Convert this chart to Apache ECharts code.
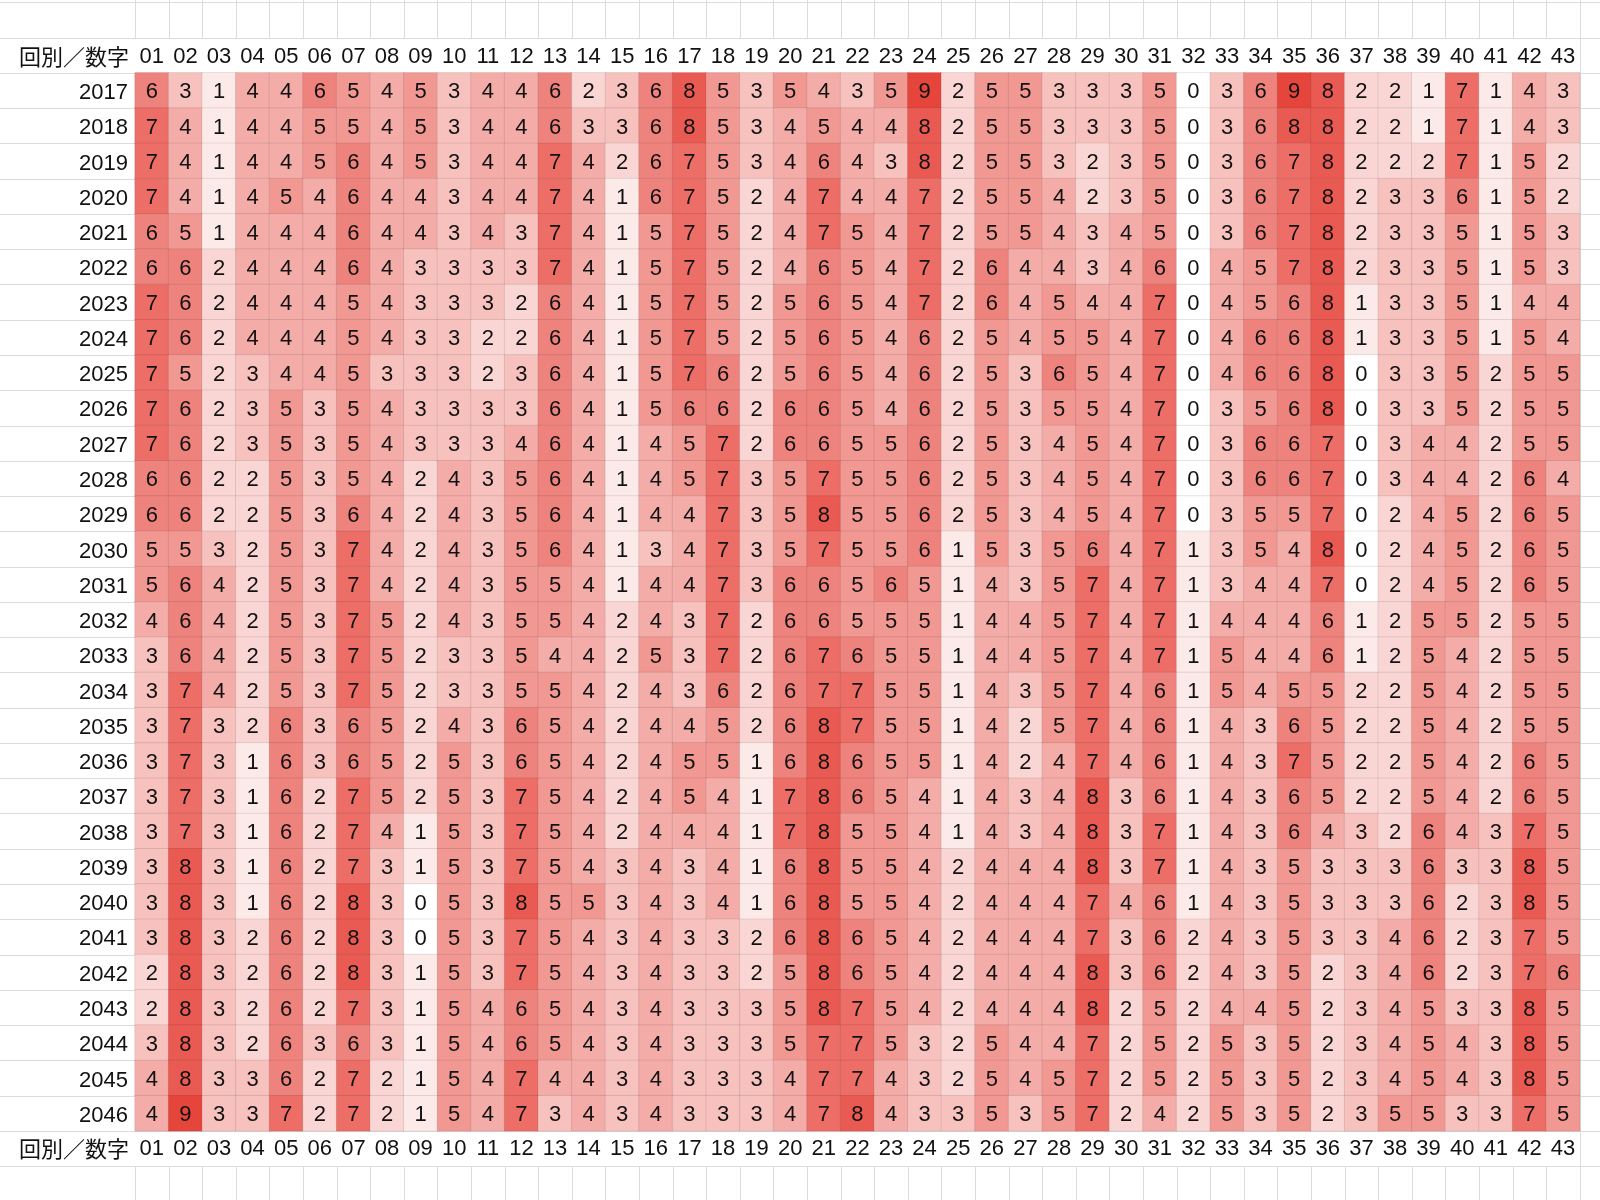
<!DOCTYPE html>
<html>
<head>
<meta charset="utf-8">
<script src="https://cdn.jsdelivr.net/npm/echarts@6/dist/echarts.min.js"></script>
<style>
  html, body { margin: 0; padding: 0; background: #fff; }
  #main { width: 1600px; height: 1200px; }
</style>
</head>
<body>
<div id="main"></div>
<script>
// 回別 (rows, top to bottom)
var years = ['2017', '2018', '2019', '2020', '2021', '2022', '2023', '2024', '2025', '2026',
  '2027', '2028', '2029', '2030', '2031', '2032', '2033', '2034', '2035', '2036',
  '2037', '2038', '2039', '2040', '2041', '2042', '2043', '2044', '2045', '2046'];

// 数字 (columns)
var numbers = ['01', '02', '03', '04', '05', '06', '07', '08', '09', '10',
  '11', '12', '13', '14', '15', '16', '17', '18', '19', '20',
  '21', '22', '23', '24', '25', '26', '27', '28', '29', '30',
  '31', '32', '33', '34', '35', '36', '37', '38', '39', '40',
  '41', '42', '43'];

// 出現回数, one line per year, 43 values per line
var counts = [
  [6,3,1,4,4,6,5,4,5,3,4,4,6,2,3,6,8,5,3,5,4,3,5,9,2,5,5,3,3,3,5,0,3,6,9,8,2,2,1,7,1,4,3],
  [7,4,1,4,4,5,5,4,5,3,4,4,6,3,3,6,8,5,3,4,5,4,4,8,2,5,5,3,3,3,5,0,3,6,8,8,2,2,1,7,1,4,3],
  [7,4,1,4,4,5,6,4,5,3,4,4,7,4,2,6,7,5,3,4,6,4,3,8,2,5,5,3,2,3,5,0,3,6,7,8,2,2,2,7,1,5,2],
  [7,4,1,4,5,4,6,4,4,3,4,4,7,4,1,6,7,5,2,4,7,4,4,7,2,5,5,4,2,3,5,0,3,6,7,8,2,3,3,6,1,5,2],
  [6,5,1,4,4,4,6,4,4,3,4,3,7,4,1,5,7,5,2,4,7,5,4,7,2,5,5,4,3,4,5,0,3,6,7,8,2,3,3,5,1,5,3],
  [6,6,2,4,4,4,6,4,3,3,3,3,7,4,1,5,7,5,2,4,6,5,4,7,2,6,4,4,3,4,6,0,4,5,7,8,2,3,3,5,1,5,3],
  [7,6,2,4,4,4,5,4,3,3,3,2,6,4,1,5,7,5,2,5,6,5,4,7,2,6,4,5,4,4,7,0,4,5,6,8,1,3,3,5,1,4,4],
  [7,6,2,4,4,4,5,4,3,3,2,2,6,4,1,5,7,5,2,5,6,5,4,6,2,5,4,5,5,4,7,0,4,6,6,8,1,3,3,5,1,5,4],
  [7,5,2,3,4,4,5,3,3,3,2,3,6,4,1,5,7,6,2,5,6,5,4,6,2,5,3,6,5,4,7,0,4,6,6,8,0,3,3,5,2,5,5],
  [7,6,2,3,5,3,5,4,3,3,3,3,6,4,1,5,6,6,2,6,6,5,4,6,2,5,3,5,5,4,7,0,3,5,6,8,0,3,3,5,2,5,5],
  [7,6,2,3,5,3,5,4,3,3,3,4,6,4,1,4,5,7,2,6,6,5,5,6,2,5,3,4,5,4,7,0,3,6,6,7,0,3,4,4,2,5,5],
  [6,6,2,2,5,3,5,4,2,4,3,5,6,4,1,4,5,7,3,5,7,5,5,6,2,5,3,4,5,4,7,0,3,6,6,7,0,3,4,4,2,6,4],
  [6,6,2,2,5,3,6,4,2,4,3,5,6,4,1,4,4,7,3,5,8,5,5,6,2,5,3,4,5,4,7,0,3,5,5,7,0,2,4,5,2,6,5],
  [5,5,3,2,5,3,7,4,2,4,3,5,6,4,1,3,4,7,3,5,7,5,5,6,1,5,3,5,6,4,7,1,3,5,4,8,0,2,4,5,2,6,5],
  [5,6,4,2,5,3,7,4,2,4,3,5,5,4,1,4,4,7,3,6,6,5,6,5,1,4,3,5,7,4,7,1,3,4,4,7,0,2,4,5,2,6,5],
  [4,6,4,2,5,3,7,5,2,4,3,5,5,4,2,4,3,7,2,6,6,5,5,5,1,4,4,5,7,4,7,1,4,4,4,6,1,2,5,5,2,5,5],
  [3,6,4,2,5,3,7,5,2,3,3,5,4,4,2,5,3,7,2,6,7,6,5,5,1,4,4,5,7,4,7,1,5,4,4,6,1,2,5,4,2,5,5],
  [3,7,4,2,5,3,7,5,2,3,3,5,5,4,2,4,3,6,2,6,7,7,5,5,1,4,3,5,7,4,6,1,5,4,5,5,2,2,5,4,2,5,5],
  [3,7,3,2,6,3,6,5,2,4,3,6,5,4,2,4,4,5,2,6,8,7,5,5,1,4,2,5,7,4,6,1,4,3,6,5,2,2,5,4,2,5,5],
  [3,7,3,1,6,3,6,5,2,5,3,6,5,4,2,4,5,5,1,6,8,6,5,5,1,4,2,4,7,4,6,1,4,3,7,5,2,2,5,4,2,6,5],
  [3,7,3,1,6,2,7,5,2,5,3,7,5,4,2,4,5,4,1,7,8,6,5,4,1,4,3,4,8,3,6,1,4,3,6,5,2,2,5,4,2,6,5],
  [3,7,3,1,6,2,7,4,1,5,3,7,5,4,2,4,4,4,1,7,8,5,5,4,1,4,3,4,8,3,7,1,4,3,6,4,3,2,6,4,3,7,5],
  [3,8,3,1,6,2,7,3,1,5,3,7,5,4,3,4,3,4,1,6,8,5,5,4,2,4,4,4,8,3,7,1,4,3,5,3,3,3,6,3,3,8,5],
  [3,8,3,1,6,2,8,3,0,5,3,8,5,5,3,4,3,4,1,6,8,5,5,4,2,4,4,4,7,4,6,1,4,3,5,3,3,3,6,2,3,8,5],
  [3,8,3,2,6,2,8,3,0,5,3,7,5,4,3,4,3,3,2,6,8,6,5,4,2,4,4,4,7,3,6,2,4,3,5,3,3,4,6,2,3,7,5],
  [2,8,3,2,6,2,8,3,1,5,3,7,5,4,3,4,3,3,2,5,8,6,5,4,2,4,4,4,8,3,6,2,4,3,5,2,3,4,6,2,3,7,6],
  [2,8,3,2,6,2,7,3,1,5,4,6,5,4,3,4,3,3,3,5,8,7,5,4,2,4,4,4,8,2,5,2,4,4,5,2,3,4,5,3,3,8,5],
  [3,8,3,2,6,3,6,3,1,5,4,6,5,4,3,4,3,3,3,5,7,7,5,3,2,5,4,4,7,2,5,2,5,3,5,2,3,4,5,4,3,8,5],
  [4,8,3,3,6,2,7,2,1,5,4,7,4,4,3,4,3,3,3,4,7,7,4,3,2,5,4,5,7,2,5,2,5,3,5,2,3,4,5,4,3,8,5],
  [4,9,3,3,7,2,7,2,1,5,4,7,3,4,3,4,3,3,3,4,7,8,4,3,3,5,3,5,7,2,4,2,5,3,5,2,3,5,5,3,3,7,5]
];

var cornerLabel = '回別／数字';

// 表のレイアウト
var LEFT = 135;
var TOP = 72.8;
var CELL_W = 33.6;
var CELL_H = 35.27;
var TEXT_FONT = '"Liberation Sans", Arial, sans-serif';
var CJK_FONT = '"Noto Sans CJK JP", sans-serif';
var TEXT_COLOR = '#111111';
var LINE_COLOR = '#dcdcdc';

var heatData = [];
counts.forEach(function (row, i) {
  row.forEach(function (v, j) {
    heatData.push([j, i, v]);
  });
});

// スプレッドシート風の罫線と見出し
var sheetLines = [];
function px(v) { return Math.round(v) + 0.5; }
for (var k = -2; k <= 32; k++) {
  var y = px(TOP + k * CELL_H);
  sheetLines.push({
    type: 'line', silent: true, z: 0,
    shape: { x1: 0, y1: y, x2: 1600, y2: y },
    style: { stroke: LINE_COLOR, lineWidth: 1 }
  });
}
for (var j = 0; j <= numbers.length; j++) {
  var x = px(LEFT + j * CELL_W);
  if (j === numbers.length) {
    sheetLines.push({
      type: 'line', silent: true, z: 0,
      shape: { x1: x, y1: 0, x2: x, y2: 1200 },
      style: { stroke: LINE_COLOR, lineWidth: 1 }
    });
  } else {
    sheetLines.push({
      type: 'line', silent: true, z: 0,
      shape: { x1: x, y1: 0, x2: x, y2: px(TOP - CELL_H) },
      style: { stroke: LINE_COLOR, lineWidth: 1 }
    });
    sheetLines.push({
      type: 'line', silent: true, z: 0,
      shape: { x1: x, y1: px(TOP + (years.length + 1) * CELL_H), x2: x, y2: 1200 },
      style: { stroke: LINE_COLOR, lineWidth: 1 }
    });
  }
}
// 見出し「回別／数字」(上と下)
[TOP - CELL_H / 2 + 1.5, TOP + (years.length + 0.5) * CELL_H + 0.5].forEach(function (cy) {
  sheetLines.push({
    type: 'text', silent: true, z: 5,
    x: 129, y: cy,
    style: {
      text: cornerLabel, align: 'right', verticalAlign: 'middle',
      font: '22px ' + CJK_FONT, fill: TEXT_COLOR
    }
  });
});

var chart = echarts.init(document.getElementById('main'));
var axisLabelBase = {
  fontSize: 22,
  fontFamily: TEXT_FONT,
  color: TEXT_COLOR
};

var option = {
  backgroundColor: '#ffffff',
  animation: false,
  graphic: { elements: sheetLines },
  grid: {
    left: LEFT,
    top: TOP,
    width: CELL_W * numbers.length,
    height: CELL_H * years.length,
    containLabel: false,
    outerBoundsMode: 'none'
  },
  xAxis: [
    {
      type: 'category',
      position: 'top',
      data: numbers,
      axisLine: { show: false },
      axisTick: { show: false },
      splitLine: { show: false },
      axisLabel: Object.assign({ margin: CELL_H / 2 - 1.5, verticalAlign: 'middle', interval: 0 }, axisLabelBase)
    },
    {
      type: 'category',
      position: 'bottom',
      data: numbers,
      axisLine: { show: false },
      axisTick: { show: false },
      splitLine: { show: false },
      axisLabel: Object.assign({ margin: CELL_H / 2 + 0.5, verticalAlign: 'middle', interval: 0 }, axisLabelBase)
    }
  ],
  yAxis: {
    type: 'category',
    inverse: true,
    data: years,
    axisLine: { show: false },
    axisTick: { show: false },
    splitLine: { show: false },
    axisLabel: Object.assign({
      margin: 7,
      interval: 0,
      formatter: '{y|{value}}',
      rich: { y: { fontSize: 22, fontFamily: TEXT_FONT, color: TEXT_COLOR, padding: [5, 0, 0, 0] } }
    }, axisLabelBase)
  },
  visualMap: {
    show: false,
    type: 'continuous',
    min: 0,
    max: 9,
    dimension: 2,
    inRange: { color: ['#ffffff', '#e6453c'] }
  },
  series: [{
    type: 'heatmap',
    xAxisIndex: 0,
    yAxisIndex: 0,
    data: heatData,
    itemStyle: {
      borderColor: 'rgba(0,0,0,0.09)',
      borderWidth: 1
    },
    label: {
      show: true,
      fontSize: 22,
      fontFamily: TEXT_FONT,
      color: TEXT_COLOR,
      offset: [0, 2]
    },
    emphasis: { disabled: true }
  }]
};

chart.setOption(option);
</script>
</body>
</html>
